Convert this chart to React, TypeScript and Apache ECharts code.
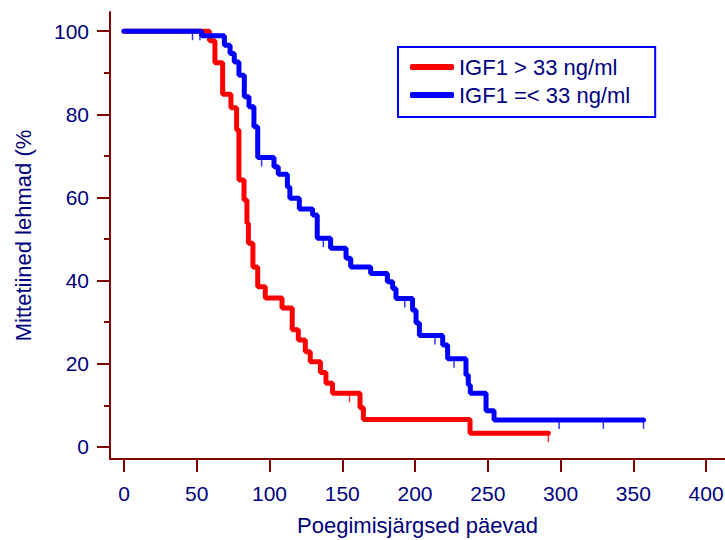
import React, { useEffect, useRef } from 'react';
import * as echarts from 'echarts';

// ---- data ----
const SERIES_NAMES = ['IGF1 > 33 ng/ml', 'IGF1 =< 33 ng/ml'];

const RED_TIMES = [0, 58.8, 62.5, 67.8, 73.5, 77.4, 79, 82.5, 84.5, 85.5, 88.6, 91.9, 97.1, 108.6, 115.6, 119.8, 124.6, 128, 135, 138.8, 143.3, 162.2, 164.5, 237.8, 291.6];
const RED_SURV = [100, 97.7, 92.4, 84.8, 81.6, 76.2, 64.2, 59.4, 53.8, 49, 43.3, 38.5, 35.8, 33.4, 28.2, 25.7, 22.9, 20.5, 17.9, 15.3, 12.9, 9.4, 6.6, 3.3, 3.3];

const BLUE_TIMES = [0, 53.4, 69, 72.9, 75.8, 79, 82.7, 85.9, 89.3, 91.9, 103.1, 106, 112.3, 114, 120.5, 129.6, 132.8, 142, 152.6, 155.8, 169.5, 181, 184.6, 186.9, 198.3, 200.7, 203, 219, 222.4, 235, 236.6, 238, 248.8, 254.3, 357];
const BLUE_SURV = [100, 98.9, 96.6, 94.6, 92.6, 89.4, 84.2, 81.8, 77, 69.6, 67.4, 65.6, 62.5, 59.8, 57.2, 55.8, 50.2, 47.8, 45.4, 43.3, 41.7, 39.7, 38.1, 35.7, 32.9, 29.8, 26.8, 24.5, 21.2, 17.3, 14.9, 12.9, 8.7, 6.5, 6.5];

const RED_CENSOR_T = [155, 291.6];
const RED_CENSOR_S = [12.9, 3.3];
const BLUE_CENSOR_T = [47.1, 52.2, 94.6, 137, 193, 213.7, 226.8, 299, 329.4, 357];
const BLUE_CENSOR_S = [100, 100, 69.6, 50.2, 35.7, 26.8, 21.2, 6.5, 6.5, 6.5];

const X_TICKS = [0, 50, 100, 150, 200, 250, 300, 350, 400];
const Y_TICKS = [0, 20, 40, 60, 80, 100];
const Y_MINOR_TICKS = [10, 30, 50, 70, 90];

// ---- layout / style ----
const X_MIN = -9.6;
const X_MAX = 413;
const Y_MIN = -2.9;
const Y_MAX = 104.6;
const NAVY = '#000080';
const MAROON = '#800000';
const RED = '#ff0000';
const BLUE = '#0000ff';
const FONT = '"Liberation Sans", Arial, sans-serif';

const pairs = (xs: number[], ys: number[]) => xs.map((x, i) => [x, ys[i]]);

export default function App() {
  const ref = useRef<HTMLDivElement>(null);
  useEffect(() => {
    const chart = echarts.init(ref.current!, null, { renderer: 'svg' });
    const tickLine = { color: MAROON, width: 2 };
    const option: any = {
      animation: false,
      backgroundColor: '#ffffff',
      textStyle: { fontFamily: FONT },
      grid: { left: 110, right: 0, top: 12, bottom: 81, outerBoundsMode: 'none' },
      legend: {
        data: SERIES_NAMES,
        orient: 'vertical',
        left: 398,
        top: 47,
        padding: [8, 25, 10, 12],
        itemGap: 4,
        itemWidth: 44,
        itemHeight: 6,
        icon: 'roundRect',
        borderColor: BLUE,
        borderWidth: 2,
        backgroundColor: '#ffffff',
        textStyle: { color: NAVY, fontSize: 22, lineHeight: 24, fontFamily: FONT },
      },
      xAxis: {
        type: 'value',
        min: X_MIN,
        max: X_MAX,
        name: 'Poegimisjärgsed päevad',
        nameLocation: 'middle',
        nameGap: 55,
        nameTextStyle: { color: NAVY, fontSize: 22, fontFamily: FONT },
        axisLine: { show: true, onZero: false, lineStyle: tickLine },
        axisTick: { show: true, length: 13, customValues: X_TICKS, lineStyle: tickLine },
        axisLabel: { customValues: X_TICKS, color: NAVY, fontSize: 21, margin: 24, fontFamily: FONT },
        splitLine: { show: false },
      },
      yAxis: [
        {
          type: 'value',
          min: Y_MIN,
          max: Y_MAX,
          name: 'Mittetiined lehmad (%',
          nameLocation: 'middle',
          nameGap: 76,
          nameTextStyle: { color: NAVY, fontSize: 22, fontFamily: FONT },
          axisLine: { show: true, onZero: false, lineStyle: tickLine },
          axisTick: { show: true, length: 13, customValues: Y_TICKS, lineStyle: tickLine },
          axisLabel: { customValues: Y_TICKS, color: NAVY, fontSize: 21, margin: 21, fontFamily: FONT },
          splitLine: { show: false },
        },
        {
          type: 'value',
          min: Y_MIN,
          max: Y_MAX,
          position: 'left',
          offset: 0,
          axisLine: { show: false, onZero: false },
          axisTick: { show: true, length: 6, customValues: Y_MINOR_TICKS, lineStyle: tickLine },
          axisLabel: { show: false },
          splitLine: { show: false },
        },
      ],
      series: [
        {
          name: SERIES_NAMES[0],
          type: 'line',
          step: 'end',
          data: pairs(RED_TIMES, RED_SURV),
          showSymbol: false,
          color: RED,
          lineStyle: { color: RED, width: 5, cap: 'round' },
          silent: true,
        },
        {
          name: SERIES_NAMES[1],
          type: 'line',
          step: 'end',
          data: pairs(BLUE_TIMES, BLUE_SURV),
          showSymbol: false,
          color: BLUE,
          lineStyle: { color: BLUE, width: 5, cap: 'round' },
          silent: true,
        },
        {
          name: 'red-censored',
          type: 'scatter',
          data: pairs(RED_CENSOR_T, RED_CENSOR_S),
          symbol: 'rect',
          symbolSize: [1.5, 10],
          symbolOffset: [0, 4],
          itemStyle: { color: RED },
          silent: true,
        },
        {
          name: 'blue-censored',
          type: 'scatter',
          data: pairs(BLUE_CENSOR_T, BLUE_CENSOR_S),
          symbol: 'rect',
          symbolSize: [1.5, 10],
          symbolOffset: [0, 4],
          itemStyle: { color: BLUE },
          silent: true,
        },
      ],
    };
    chart.setOption(option);
    return () => chart.dispose();
  }, []);
  return (
    <div
      ref={ref}
      style={{ position: 'fixed', left: 0, top: 0, width: 725, height: 540, background: '#fff' }}
    />
  );
}
